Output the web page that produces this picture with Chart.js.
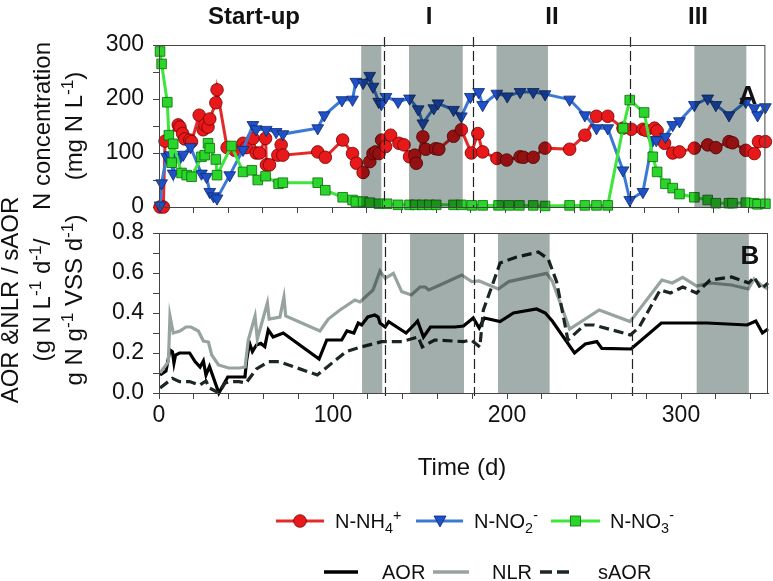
<!DOCTYPE html>
<html>
<head>
<meta charset="utf-8">
<script src="https://cdn.jsdelivr.net/npm/chart.js@4.4.0/dist/chart.umd.min.js"></script>
<style>
body { margin: 0; background: #fff; font-family: "Liberation Sans", Arial, sans-serif; }
#wrap { position: relative; width: 773px; height: 581px; overflow: hidden; }
canvas, svg { position: absolute; left: 0; top: 0; }
.t { position: absolute; white-space: nowrap; color: #111; font-size: 24px; }
.c { transform: translate(-50%, -50%); }
.b { font-weight: bold; }
.rot { transform: translate(-50%, -50%) rotate(-90deg); text-align: center; line-height: 32px; }
.lg { font-size: 20px; line-height: 26px; }
sub, sup { font-size: 0.72em; line-height: 0; }
</style>
</head>
<body>
<div id="wrap">
<canvas id="chartA" width="773" height="581"></canvas>
<canvas id="chartB" width="773" height="581"></canvas>

<div class="t b c" style="left:254px;top:16px">Start-up</div>
<div class="t b c" style="left:429px;top:16px">I</div>
<div class="t b c" style="left:552px;top:16px">II</div>
<div class="t b c" style="left:698px;top:16px">III</div>
<div class="t b c" style="left:748px;top:95px;font-size:26px">A</div>
<div class="t b c" style="left:750px;top:255px;font-size:26px">B</div>

<div class="t rot" style="left:58px;top:126px">N concentration<br>(mg N L<sup>-1</sup>)</div>
<div class="t rot" style="left:42px;top:300px">AOR &amp;NLR / sAOR<br>(g N L<sup>-1</sup> d<sup>-1</sup>/<br>g N g<sup>-1</sup> VSS d<sup>-1</sup>)</div>

<div class="t c" style="left:462px;top:467px">Time (d)</div>

<svg width="773" height="581">
  <line x1="276" y1="521" x2="324" y2="521" stroke="#e42a28" stroke-width="3"/>
  <circle cx="300" cy="521" r="6.3" fill="#e8191b" stroke="#700" stroke-width="0.8"/>
  <line x1="416" y1="521" x2="463" y2="521" stroke="#3a7ad6" stroke-width="3"/>
  <polygon points="434,516 446,516 440,527" fill="#1f50c8" stroke="#0a2a70" stroke-width="0.8"/>
  <line x1="551" y1="521" x2="600" y2="521" stroke="#3de63a" stroke-width="3"/>
  <rect x="570.5" y="516" width="10" height="10" fill="#2bd62b" stroke="#0a6a0a" stroke-width="0.8"/>
  <line x1="324" y1="572" x2="358" y2="572" stroke="#000" stroke-width="3.5"/>
  <line x1="433" y1="572" x2="469" y2="572" stroke="#97a39f" stroke-width="3.5"/>
  <line x1="540" y1="572" x2="569" y2="572" stroke="#1c2624" stroke-width="3.5" stroke-dasharray="12,5"/>
</svg>
<div class="t lg" style="left:335px;top:508px">N-NH<sub>4</sub><sup>+</sup></div>
<div class="t lg" style="left:474px;top:508px">N-NO<sub>2</sub><sup>-</sup></div>
<div class="t lg" style="left:610px;top:508px">N-NO<sub>3</sub><sup>-</sup></div>
<div class="t lg" style="left:382px;top:559px">AOR</div>
<div class="t lg" style="left:492px;top:559px">NLR</div>
<div class="t lg" style="left:598px;top:559px">sAOR</div>
</div>

<script>
// day ranges of the grey bands and the phase boundaries
let bands = [[116.7, 128.3], [144.3, 175.3], [194.8, 224.5], [309, 339]];
let phaseLines = [130, 181, 271.7];

let xTicks = [0, 20, 40, 60, 80, 100, 120, 140, 160, 180, 200, 220, 240, 260, 280, 300, 320, 340];
let xLabels = [0, 100, 200, 300];
let yTicksA = [0, 50, 100, 150, 200, 250, 300];
let yLabelsA = [0, 100, 200, 300];
let yTicksB = [0, 0.1, 0.2, 0.3, 0.4, 0.5, 0.6, 0.7, 0.8];
let yLabelsB = [0, 0.2, 0.4, 0.6, 0.8];

// [day, mg N/L]
let nh4 = [[0.6, 0], [2.5, 0], [3.5, 122], [11.1, 152], [12.1, 148], [13.6, 136], [14.9, 126], [17.8, 124], [18.8, 121],
    [23.2, 170], [25.5, 143], [26.4, 152], [28.3, 148], [29.3, 163], [32.8, 193], [33.5, 217], [39.3, 110], [43.7, 105],
    [48.5, 118], [50.4, 110], [54.2, 127], [56.1, 100], [58, 100], [61.5, 127], [62, 78], [63.8, 78], [68.6, 96],
    [70.5, 115], [71.5, 96], [91.6, 102], [96, 92], [106, 124], [111.7, 99], [114, 81], [117.8, 64], [121.7, 84],
    [123.5, 99], [125, 102], [127, 99], [128.5, 124], [130.8, 112], [133.7, 133], [138.5, 118], [141.4, 115],
    [144.6, 93], [147.6, 96], [148.5, 81], [152.3, 130], [154, 107], [159.6, 108], [161.5, 107], [170, 131],
    [174.5, 143], [180.3, 100], [184, 136], [186.8, 102], [195, 90], [200.7, 87], [208.4, 93], [210.4, 92], [216, 92],
    [222.8, 109], [237, 107], [245.8, 133], [252.5, 168], [259, 168], [267.8, 146], [272.6, 144], [279.3, 144],
    [281, 142], [286, 146], [287.5, 141], [291.8, 118], [296.5, 100], [300.4, 102], [309, 109], [316.7, 115],
    [321.4, 110], [329, 121], [331, 119], [338.7, 105], [343.6, 99], [346, 121], [350, 121]];

let no2 = [[0.6, 3], [1.5, 44], [4.4, 93], [6.3, 96], [8.2, 62], [9.5, 93], [12.1, 91], [14, 97], [18.2, 111],
    [24.5, 62], [27.4, 56], [29.3, 28], [31.5, 20], [33.5, 16], [40.8, 59], [48.5, 106], [54.2, 152], [56.1, 144],
    [61.9, 143], [67.6, 139], [71.5, 135], [91.6, 146], [95.4, 170], [105.6, 198], [111.7, 199], [113.6, 232],
    [117.8, 230], [121.6, 243], [123.5, 223], [126.8, 195], [128.4, 191], [131, 204], [138, 195], [144.6, 201],
    [149.6, 181], [152.3, 155], [158.6, 183], [161, 192], [170, 180], [174.5, 168], [179.7, 204], [184.5, 213],
    [186.8, 189], [195, 210], [201, 205], [208.4, 213], [216, 213], [222.8, 209], [237, 199], [245.8, 170],
    [252.5, 146], [259, 146], [267.8, 68], [271.7, 13], [279.3, 28], [285, 124], [287, 124], [292.3, 130],
    [296.5, 152], [300.4, 159], [309, 189], [316.7, 201], [321.4, 189], [329, 170], [338.7, 195], [343.6, 183],
    [345.5, 170], [350, 185]];

let no3 = [[0.6, 288], [1.5, 265], [4.8, 194], [5.7, 133], [7.3, 82], [8.2, 117], [13, 63], [16, 59], [18.8, 56],
    [24.5, 93], [26.4, 96], [28.3, 118], [29.3, 109], [32.8, 88], [33.5, 59], [41.8, 113], [48.5, 65], [53.6, 68],
    [57, 50], [61.5, 57], [69, 43], [71.5, 45], [91.6, 45], [96, 31], [106, 18], [111.7, 13], [113.6, 10],
    [117.8, 10], [121.7, 8], [127, 6], [131.7, 6], [138, 4], [144.6, 4], [148, 4], [152, 4], [156, 4], [160, 4],
    [170, 4], [174.5, 4], [180.5, 3], [186.8, 3], [196, 3], [202, 3], [208, 3], [216, 3], [222.8, 2], [237, 3],
    [245.8, 3], [252.5, 3], [259, 3], [267.8, 146], [271.7, 198], [280, 175], [285, 93], [287.5, 65], [292.3, 43],
    [296.5, 35], [300.4, 24], [309, 18], [316.7, 13], [321.4, 7], [329, 7], [331, 7], [338.7, 8], [343.6, 7],
    [345.5, 5], [350, 6]];

// [day, rate]
let aor = [[0.6, 0.09], [4, 0.11], [6.3, 0.215], [7.7, 0.207], [8.6, 0.15], [9.5, 0.19], [11.8, 0.2], [17.6, 0.2],
    [20.7, 0.157], [23.6, 0.13], [25.5, 0.16], [27, 0.09], [29, 0.133], [34.4, 0], [39.5, 0.08], [44, 0.08],
    [49.4, 0.08], [50.4, 0.165], [52, 0.25], [53.7, 0.207], [56, 0.24], [58.5, 0.248], [60.8, 0.232], [62.8, 0.315],
    [65.6, 0.28], [71.4, 0.3], [92, 0.17], [96.4, 0.265], [105, 0.265], [108, 0.31], [112, 0.3], [114.5, 0.35],
    [116.5, 0.34], [120, 0.38], [124, 0.39], [126, 0.38], [127, 0.35], [130, 0.33], [132, 0.357], [142, 0.3],
    [147.6, 0.35], [148.6, 0.36], [152, 0.28], [156, 0.33], [170, 0.33], [175, 0.335], [180.6, 0.375], [184, 0.325],
    [187, 0.375], [196, 0.357], [203.7, 0.4], [217, 0.42], [222, 0.4], [226, 0.36], [238.8, 0.2], [245, 0.245],
    [251.6, 0.257], [254.5, 0.223], [271.3, 0.22], [288.7, 0.35], [300, 0.35], [315, 0.35], [338, 0.34],
    [343, 0.36], [346.8, 0.3], [350, 0.32]];

let nlr = [[0.6, 0.1], [5.4, 0.157], [6.3, 0.385], [8.2, 0.3], [12, 0.31], [15.5, 0.33], [18.4, 0.33], [22.6, 0.31],
    [25.5, 0.26], [28.4, 0.255], [30.3, 0.19], [34.2, 0.14], [40, 0.125], [46.5, 0.125], [49.5, 0.13], [51.3, 0.265],
    [55.2, 0.385], [56.5, 0.27], [62.3, 0.45], [63.3, 0.37], [69.5, 0.38], [71.8, 0.48], [72.8, 0.385], [92.5, 0.31],
    [97.3, 0.37], [104, 0.415], [112.6, 0.465], [115.5, 0.455], [123, 0.515], [127, 0.61], [130, 0.573],
    [134.7, 0.598], [139.5, 0.507], [145, 0.49], [150, 0.53], [153, 0.53], [155, 0.515], [161.5, 0.54], [174, 0.59],
    [179.7, 0.557], [184, 0.56], [195, 0.52], [201, 0.557], [222.8, 0.598], [226, 0.56], [236, 0.32], [253, 0.415],
    [270.7, 0.357], [289, 0.565], [295, 0.55], [301, 0.578], [309, 0.535], [316.7, 0.55], [329, 0.54],
    [338.7, 0.52], [342, 0.57], [346, 0.54], [350, 0.52]];

let saor = [[0.6, 0.025], [7.7, 0.073], [11.8, 0.057], [17.6, 0.057], [23.4, 0.04], [27, 0.06], [29, 0.025],
    [34.4, 0], [38, 0.05], [41, 0.057], [46, 0.057], [50, 0.05], [56, 0.12], [63, 0.157], [69, 0.157], [91, 0.09],
    [107.5, 0.207], [116, 0.23], [128, 0.257], [139.6, 0.257], [149, 0.28], [151.3, 0.23], [158.4, 0.265],
    [175, 0.257], [179.5, 0.265], [184.4, 0.23], [186.4, 0.415], [192, 0.55], [196, 0.65], [205.6, 0.68],
    [218, 0.705], [223.7, 0.67], [228.5, 0.557], [235, 0.265], [244.6, 0.34], [250, 0.34], [271, 0.29], [276, 0.33],
    [288, 0.515], [294, 0.5], [301, 0.53], [309, 0.5], [316.7, 0.565], [329, 0.58], [339, 0.55], [342, 0.58],
    [346, 0.52], [350, 0.55]];

function punts(arr) {
    return arr.map(function (p) { return { x: p[0], y: p[1] }; });
}

// grey bands (multiplied over the data), dashed phase lines and the box
let marcPlugin = {
    id: "marc",
    afterDatasetsDraw(chart, args, opts) {
        let ctx = chart.ctx;
        let a = chart.chartArea;
        let x = chart.scales.x;
        ctx.save();
        ctx.globalCompositeOperation = "multiply";
        ctx.fillStyle = "rgb(162,174,171)";
        for (let i = 0; i < bands.length; i++) {
            let x0 = x.getPixelForValue(bands[i][0]);
            let x1 = x.getPixelForValue(bands[i][1]);
            ctx.fillRect(x0, a.top, x1 - x0, a.bottom - a.top);
        }
        ctx.restore();

        ctx.save();
        ctx.strokeStyle = "#222";
        ctx.lineWidth = 1.2;
        ctx.setLineDash([10, 4]);
        for (let i = 0; i < phaseLines.length; i++) {
            let px = Math.round(x.getPixelForValue(phaseLines[i])) + 0.5;
            ctx.beginPath();
            ctx.moveTo(px, a.top - opts.dalt);
            ctx.lineTo(px, a.bottom + opts.baix);
            ctx.stroke();
        }
        ctx.restore();

        ctx.save();
        ctx.strokeStyle = "#444";
        ctx.lineWidth = 1;
        ctx.strokeRect(a.left + 0.5, a.top + 0.5, a.right - a.left - 1, a.bottom - a.top);
        ctx.restore();
    }
};

function escalaX(mostrar) {
    return {
        type: "linear",
        min: 0,
        max: 350,
        afterBuildTicks: function (s) { s.ticks = xTicks.map(function (v) { return { value: v }; }); },
        afterFit: function (s) { s.height = mostrar ? 40 : 10; },
        ticks: {
            display: mostrar,
            autoSkip: false,
            maxRotation: 0,
            padding: 3,
            color: "#111",
            font: { size: 23, family: "Liberation Sans" },
            callback: function (v) { return xLabels.indexOf(v) >= 0 ? String(v) : ""; }
        },
        grid: { drawOnChartArea: false, drawTicks: true, tickLength: 6, color: "#444" },
        border: { color: "#444" }
    };
}

function escalaY(min, max, ticks, labels, fmt) {
    return {
        min: min,
        max: max,
        afterBuildTicks: function (s) { s.ticks = ticks.map(function (v) { return { value: v }; }); },
        afterFit: function (s) { s.width = 159; },
        ticks: {
            autoSkip: false,
            padding: 9,
            color: "#111",
            font: { size: 23, family: "Liberation Sans" },
            callback: function (v) {
                for (let i = 0; i < labels.length; i++) {
                    if (Math.abs(labels[i] - v) < 1e-6) return fmt(v);
                }
                return "";
            }
        },
        grid: { drawOnChartArea: false, drawTicks: true, tickLength: 6, color: "#444" },
        border: { color: "#444" }
    };
}

let comuns = {
    responsive: false,
    animation: false,
    plugins: { legend: { display: false }, tooltip: { enabled: false } }
};

let graficA = new Chart(document.getElementById("chartA"), {
    type: "line",
    data: {
        datasets: [{
            label: "N-NO3-",
            data: punts(no3),
            order: 0,
            clip: false,
            borderColor: "#3de63a",
            borderWidth: 3,
            pointStyle: "rect",
            pointRadius: 6.8,
            pointBackgroundColor: "#2bd62b",
            pointBorderColor: "#0a6a0a",
            pointBorderWidth: 0.8
        }, {
            label: "N-NO2-",
            data: punts(no2),
            order: 1,
            clip: false,
            borderColor: "#3a7ad6",
            borderWidth: 3,
            pointStyle: "triangle",
            pointRotation: 180,
            pointRadius: 6.8,
            pointBackgroundColor: "#1f50c8",
            pointBorderColor: "#0a2a70",
            pointBorderWidth: 0.8
        }, {
            label: "N-NH4+",
            data: punts(nh4),
            order: 2,
            clip: false,
            borderColor: "#e42a28",
            borderWidth: 3,
            pointStyle: "circle",
            pointRadius: 6.3,
            pointBackgroundColor: "#e8191b",
            pointBorderColor: "#700",
            pointBorderWidth: 0.8
        }]
    },
    options: Object.assign({}, comuns, {
        layout: { padding: { left: 0, right: 5, top: 45, bottom: 364 } },
        plugins: Object.assign({}, comuns.plugins, { marc: { dalt: 8, baix: 0 } }),
        scales: {
            x: escalaX(false),
            y: escalaY(0, 300, yTicksA, yLabelsA, function (v) { return String(v); })
        }
    }),
    plugins: [marcPlugin]
});

let graficB = new Chart(document.getElementById("chartB"), {
    type: "line",
    data: {
        datasets: [{
            label: "sAOR",
            data: punts(saor),
            order: 0,
            clip: false,
            borderColor: "#1c2624",
            borderWidth: 3.2,
            borderDash: [10, 5],
            pointRadius: 0
        }, {
            label: "NLR",
            data: punts(nlr),
            order: 1,
            clip: false,
            borderColor: "#97a39f",
            borderWidth: 3.2,
            pointRadius: 0
        }, {
            label: "AOR",
            data: punts(aor),
            order: 2,
            clip: false,
            borderColor: "#000",
            borderWidth: 3.2,
            pointRadius: 0
        }]
    },
    options: Object.assign({}, comuns, {
        layout: { padding: { left: 0, right: 5, top: 233, bottom: 148 } },
        plugins: Object.assign({}, comuns.plugins, { marc: { dalt: 0, baix: 3 } }),
        scales: {
            x: escalaX(true),
            y: escalaY(0, 0.8, yTicksB, yLabelsB, function (v) { return v.toFixed(1); })
        }
    }),
    plugins: [marcPlugin]
});
</script>
</body>
</html>
